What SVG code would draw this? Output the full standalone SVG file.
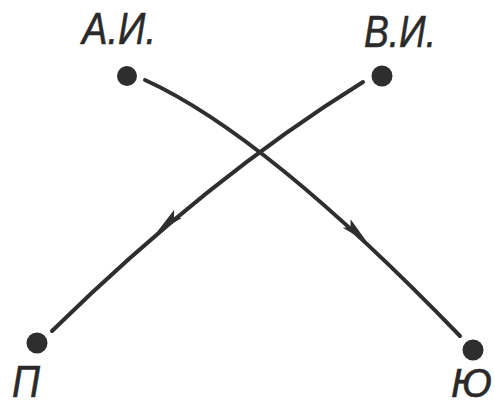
<svg xmlns="http://www.w3.org/2000/svg" width="495" height="407" viewBox="0 0 495 407">
<style>
.lbl{font-family:"Liberation Sans",Arial,sans-serif;font-style:italic;font-size:45px;fill:#2a2a2a;stroke:#2a2a2a;stroke-width:0.6}
.dot{fill:#2e2e2e}
.edge{fill:none;stroke:#2e2e2e;stroke-width:4;stroke-linecap:round}
.arr{fill:#2e2e2e}
</style>
<rect width="495" height="407" fill="#ffffff"/>
<g id="node-AI">
<circle class="dot" cx="127" cy="76" r="10"/>
<text class="lbl" x="82" y="44" textLength="74" lengthAdjust="spacingAndGlyphs">А.И.</text>
</g>
<g id="node-VI">
<circle class="dot" cx="382" cy="76" r="10.5"/>
<text class="lbl" x="364" y="47" textLength="72" lengthAdjust="spacingAndGlyphs">В.И.</text>
</g>
<g id="node-P">
<circle class="dot" cx="37" cy="343" r="10.5"/>
<text class="lbl" x="12" y="397" textLength="28" lengthAdjust="spacingAndGlyphs">П</text>
</g>
<g id="node-Yu">
<circle class="dot" cx="473" cy="350" r="10.5"/>
<text class="lbl" x="451" y="397" style="font-size:40px">Ю</text>
</g>
<g id="connectors">
<path class="edge" d="M145,80 Q266,135 460,336"/>
<path class="edge" d="M363,82 Q208,178 52,331"/>
<path class="arr" d="M367,242 L342.8,227.8 L350.5,227.2 L350.6,219.3 Z"/>
<path class="arr" d="M157,232 L181.6,218.3 L174,217.6 L174.2,209.8 Z"/>
</g>
</svg>
